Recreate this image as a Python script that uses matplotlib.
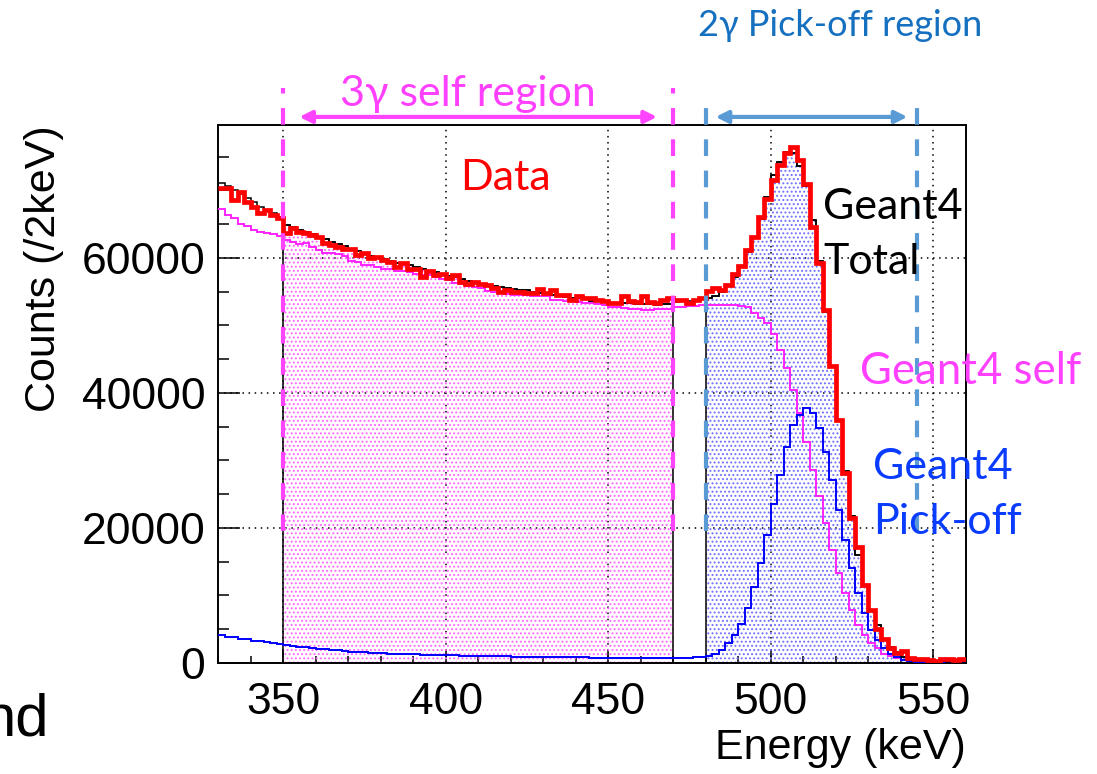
import numpy as np
import matplotlib
matplotlib.use("Agg")
import matplotlib.pyplot as plt
from matplotlib.ticker import MultipleLocator

plt.rcParams['font.family'] = ['Liberation Sans', 'DejaVu Sans']
plt.rcParams['hatch.linewidth'] = 0.9

# 2 keV bins from 330 to 560 keV
edges = np.arange(330, 561, 2)

data_counts = [
    70300, 70300, 68600, 69800, 68300, 67500, 66600, 67100, 66300, 65900,
    63700, 64400, 63900, 63700, 63400, 63100, 62200, 61900, 61700, 61400,
    61400, 60400, 60700, 60000, 60200, 59700, 59400, 58700, 59200, 58400,
    58400, 57200, 58000, 57500, 57700, 57000, 57500, 56500, 56200, 56500,
    56200, 56000, 55500, 55000, 55200, 55000, 55000, 54750, 54750, 55400,
    54750, 55250, 54500, 54500, 53800, 54400, 54000, 54000, 53800, 53700,
    53300, 53300, 54300, 53600, 53500, 54300, 53500, 53300, 53800, 54000,
    53800, 53800, 53300, 53800, 54000, 55100, 55500, 55200, 56000, 57700,
    58800, 61200, 63100, 66100, 68800, 71500, 73800, 75500, 76500, 74500,
    71000, 64600, 59200, 52300, 44000, 36000, 28100, 21500, 17200, 11600,
    7900, 5000, 3600, 2200, 1500, 1800, 700, 550, 550, 500,
    300, 550, 550, 500, 550,
]

total_counts = [
    71100, 70700, 70100, 69500, 68900, 68300, 67600, 67100, 66600, 66000,
    64900, 64600, 64200, 63900, 63600, 63100, 62800, 62400, 62100, 61800,
    61300, 61000, 60700, 60300, 60100, 59800, 59600, 59300, 59100, 58900,
    58600, 58400, 58100, 57900, 57700, 57400, 57200, 56900, 56600, 56400,
    56200, 56000, 55800, 55700, 55500, 55400, 55300, 55200, 55000, 54800,
    54700, 54500, 54400, 54200, 54100, 54000, 53900, 53700, 53600, 53500,
    53400, 53400, 53300, 53300, 53200, 53200, 53200, 53100, 53200, 53200,
    53500, 53600, 53700, 53800, 53900, 54100, 54400, 54900, 55900, 57200,
    58700, 60900, 63000, 65800, 69000, 72300, 74200, 75700, 75600, 73700,
    70600, 65600, 59500, 52000, 43900, 36000, 28500, 21800, 16000, 11500,
    7900, 5600, 3600, 2400, 1600, 950, 650, 500, 400, 300,
    300, 230, 210, 150, 150,
]

self_counts = [
    67300, 66300, 65900, 65100, 64700, 64200, 63900, 63700, 63600, 63300,
    62600, 62300, 62100, 62200, 61700, 61200, 60800, 60700, 60600, 60300,
    59500, 59400, 59000, 58900, 58700, 58400, 58400, 58100, 58000, 57900,
    57700, 57500, 57500, 57200, 56900, 56700, 56300, 56200, 55800, 55700,
    55500, 55100, 55000, 54900, 54700, 54500, 54500, 54500, 54400, 54300,
    54300, 53800, 53800, 53700, 53700, 53500, 53300, 53300, 53200, 53000,
    52800, 52800, 52600, 52500, 52400, 52300, 52300, 52400, 52500, 52500,
    52800, 52800, 52900, 52900, 53000, 53000, 53100, 53000, 53000, 53000,
    52900, 52700, 51800, 51100, 50300, 48800, 46400, 43700, 40400, 37000,
    32800, 28600, 24700, 20700, 16800, 13300, 10300, 7800, 5700, 4100,
    3000, 2200, 1400, 1000, 700, 450, 350, 300, 250, 200,
    200, 150, 150, 100, 100,
]

pickoff_counts = [
    4100, 3900, 3800, 3600, 3500, 3300, 3200, 3100, 2900, 2800,
    2700, 2500, 2400, 2300, 2200, 2100, 2000, 1950, 1900, 1800,
    1700, 1650, 1600, 1550, 1500, 1450, 1400, 1400, 1350, 1300,
    1300, 1250, 1250, 1200, 1200, 1150, 1150, 1100, 1100, 1100,
    1050, 1050, 1000, 1000, 1000, 950, 950, 950, 900, 900,
    900, 900, 850, 850, 850, 850, 850, 800, 800, 800,
    800, 800, 800, 750, 750, 750, 750, 750, 750, 750,
    750, 750, 800, 850, 950, 1100, 1300, 1900, 2900, 4150,
    5800, 8100, 11200, 14800, 19000, 23500, 27800, 32000, 35200, 36700,
    37800, 37000, 34800, 31300, 27100, 22700, 18200, 14000, 10300, 7400,
    4900, 3400, 2200, 1400, 900, 500, 300, 200, 150, 100,
    100, 80, 60, 50, 50,
]

self_window = (350, 470)
pickoff_window = (480, 546)

fig = plt.figure(figsize=(10.97, 7.74), dpi=100)
ax = fig.add_axes([218 / 1097, 1 - 663 / 774, 748 / 1097, 538 / 774])

total = np.array(total_counts)

# shaded integration windows under the total spectrum
i0, i1 = [(e - 330) // 2 for e in self_window]
ax.stairs(total[i0:i1], edges[i0:i1 + 1], fill=True, facecolor='none',
          edgecolor='#ff66ff', hatch='....', linewidth=0, zorder=1)
ax.stairs(total[i0:i1], edges[i0:i1 + 1], color='black', lw=1.1, zorder=2)
j0, j1 = [(e - 330) // 2 for e in pickoff_window]
ax.stairs(total[j0:j1], edges[j0:j1 + 1], fill=True, facecolor='none',
          edgecolor='#6f6fff', hatch='....', linewidth=0, zorder=1)
ax.stairs(total[j0:j1], edges[j0:j1 + 1], color='black', lw=1.1, zorder=2)

ax.stairs(self_counts, edges, color='#ff22ff', lw=1.4, baseline=None, zorder=3)
ax.stairs(pickoff_counts, edges, color='#0000ff', lw=1.4, baseline=None, zorder=3)
ax.stairs(total_counts, edges, color='black', lw=1.1, baseline=None, zorder=4)
ax.stairs(data_counts, edges, color='#ff0000', lw=3.4, baseline=None, zorder=5)

ax.set_xlim(330, 560)
ax.set_ylim(0, 79700)
ax.xaxis.set_major_locator(MultipleLocator(50))
ax.xaxis.set_minor_locator(MultipleLocator(10))
ax.set_yticks([0, 20000, 40000, 60000])
ax.yaxis.set_minor_locator(MultipleLocator(5000))
ax.tick_params(which='both', direction='in', width=1.1, labelsize=32)
ax.tick_params(axis='x', which='major', length=10, pad=14)
ax.tick_params(axis='x', which='minor', length=5)
ax.tick_params(axis='y', which='major', length=16, pad=9)
ax.tick_params(axis='y', which='minor', length=8)
ax.grid(True, which='major', color='black', linestyle=(0, (1, 3)), linewidth=1.1)
ax.set_axisbelow(True)
for s in ax.spines.values():
    s.set_linewidth(1.4)

ax.set_xlabel('Energy (keV)', fontsize=31, loc='right', labelpad=3)
fig.text(44 / 1097, 1 - 125 / 774, 'Counts (/2keV)', fontsize=31, rotation=90,
         rotation_mode='anchor', ha='right', va='center')

# region markers
xt = ax.get_xaxis_transform()
for x in self_window:
    ax.plot([x, x], [0.245, 1.069], transform=xt, color='#ff44ff', lw=3,
            dashes=(4, 3.5), clip_on=False, zorder=6)
for x in (480, 545):
    ax.plot([x, x], [0.245, 1.050], transform=xt, color='#5b9bd5', lw=3,
            dashes=(4, 3.5), clip_on=False, zorder=6)
ax.annotate('', xy=(465, 1.015), xytext=(355, 1.015), xycoords=xt,
            arrowprops=dict(arrowstyle='<|-|>', color='#ff44ff', lw=3,
                            mutation_scale=18, shrinkA=0, shrinkB=0),
            annotation_clip=False)
ax.annotate('', xy=(542, 1.015), xytext=(483, 1.015), xycoords=xt,
            arrowprops=dict(arrowstyle='<|-|>', color='#5b9bd5', lw=3,
                            mutation_scale=18, shrinkA=0, shrinkB=0),
            annotation_clip=False)

slide = ['Lato', 'DejaVu Sans']
def px(x, y):
    return x / 1097, 1 - y / 774

fig.text(*px(840, 25), '2γ Pick-off region', family=slide, fontsize=26,
         color='#1670c0', ha='center', va='center')
fig.text(*px(468, 94), '3γ self region', family=slide, fontsize=31,
         color='#ff40ff', ha='center', va='center')
fig.text(*px(460, 178), 'Data', family=slide, fontsize=31,
         color='#ff0000', ha='left', va='center')
fig.text(*px(823, 207), 'Geant4', family=slide, fontsize=31,
         color='black', ha='left', va='center')
fig.text(*px(823, 262), 'Total', family=slide, fontsize=31,
         color='black', ha='left', va='center')
fig.text(*px(860, 372), 'Geant4 self', family=slide, fontsize=31.5,
         color='#ff40ff', ha='left', va='center')
fig.text(*px(873, 467), 'Geant4', family=slide, fontsize=31,
         color='#0a3cff', ha='left', va='center')
fig.text(*px(873, 522), 'Pick-off', family=slide, fontsize=31,
         color='#0a3cff', ha='left', va='center')
fig.text(*px(49, 736), 'nd', fontsize=43, ha='right', va='baseline')

fig.savefig('out.png', dpi=100)
